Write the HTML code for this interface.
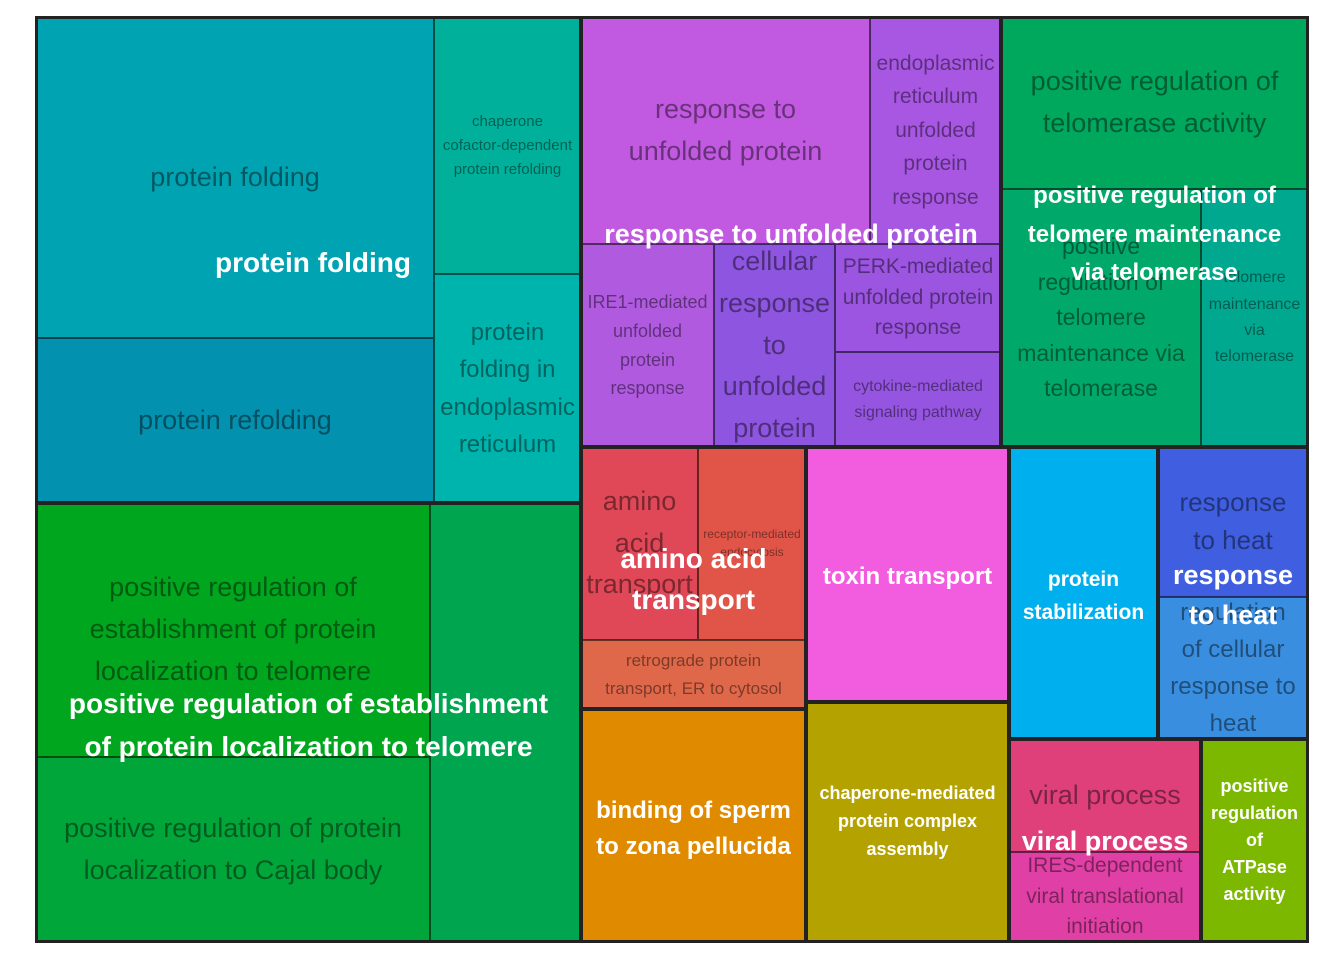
<!DOCTYPE html>
<html><head><meta charset="utf-8"><style>
body{margin:0;width:1344px;height:960px;background:#fff;position:relative;overflow:hidden;font-family:"Liberation Sans",sans-serif}
.c{position:absolute;box-sizing:border-box;border:1px solid rgba(0,0,0,.55);display:flex;align-items:center;justify-content:center;text-align:center;color:rgba(0,0,0,.45);overflow:hidden;line-height:1.45;white-space:nowrap}
.g{position:absolute;box-sizing:border-box;border:3px solid #222}
.l{position:absolute;display:flex;align-items:center;justify-content:center;text-align:center;color:#fff;font-weight:bold;line-height:1.45;white-space:nowrap}
</style></head><body>
<div class="c" style="left:36px;top:17px;width:398px;height:321px;background:#00A3B2;font-size:27px">protein folding</div>
<div class="c" style="left:36px;top:338px;width:398px;height:165px;background:#0391B0;font-size:27px">protein refolding</div>
<div class="c" style="left:434px;top:17px;width:147px;height:257px;background:#00B09A;font-size:15px;line-height:1.6">chaperone<br>cofactor-dependent<br>protein refolding</div>
<div class="c" style="left:434px;top:274px;width:147px;height:229px;background:#00B4AE;font-size:24px;line-height:1.55">protein<br>folding in<br>endoplasmic<br>reticulum</div>

<div class="c" style="left:581px;top:17px;width:289px;height:227px;background:#C15AE0;font-size:27px;line-height:1.55">response to<br>unfolded protein</div>
<div class="c" style="left:870px;top:17px;width:131px;height:227px;background:#A857E3;font-size:21px;line-height:1.6">endoplasmic<br>reticulum<br>unfolded<br>protein<br>response</div>
<div class="c" style="left:581px;top:244px;width:133px;height:203px;background:#B05AE0;font-size:18px;line-height:1.6">IRE1-mediated<br>unfolded<br>protein<br>response</div>
<div class="c" style="left:714px;top:244px;width:121px;height:203px;background:#8E55E0;font-size:27px;line-height:1.55">cellular<br>response<br>to<br>unfolded<br>protein</div>
<div class="c" style="left:835px;top:244px;width:166px;height:108px;background:#9B55E0;font-size:21px">PERK-mediated<br>unfolded protein<br>response</div>
<div class="c" style="left:835px;top:352px;width:166px;height:95px;background:#9555E0;font-size:16px;line-height:1.6">cytokine-mediated<br>signaling pathway</div>

<div class="c" style="left:1001px;top:17px;width:307px;height:172px;background:#00A85E;font-size:27px;line-height:1.55">positive regulation of<br>telomerase activity</div>
<div class="c" style="left:1001px;top:189px;width:200px;height:258px;background:#00A96A;font-size:23px;line-height:1.55">positive<br>regulation of<br>telomere<br>maintenance via<br>telomerase</div>
<div class="c" style="left:1201px;top:189px;width:107px;height:258px;background:#00A890;font-size:16px;line-height:1.65">telomere<br>maintenance<br>via<br>telomerase</div>

<div class="c" style="left:36px;top:503px;width:394px;height:254px;background:#00A61E;font-size:27px;line-height:1.55">positive regulation of<br>establishment of protein<br>localization to telomere</div>
<div class="c" style="left:36px;top:757px;width:394px;height:185px;background:#00A63A;font-size:27px;line-height:1.55">positive regulation of protein<br>localization to Cajal body</div>
<div class="c" style="left:430px;top:503px;width:151px;height:439px;background:#00A550"></div>

<div class="c" style="left:581px;top:447px;width:117px;height:193px;background:#E04858;font-size:27px;line-height:1.55">amino<br>acid<br>transport</div>
<div class="c" style="left:698px;top:447px;width:108px;height:193px;background:#E05548;font-size:12px">receptor-mediated<br>endocytosis</div>
<div class="c" style="left:581px;top:640px;width:225px;height:69px;background:#E0684A;font-size:17px;line-height:1.6">retrograde protein<br>transport, ER to cytosol</div>
<div class="c" style="left:806px;top:447px;width:203px;height:255px;background:#F25DE0"></div>
<div class="c" style="left:1009px;top:447px;width:149px;height:292px;background:#00B0EE"></div>
<div class="c" style="left:1158px;top:447px;width:150px;height:150px;background:#3F5FE0;font-size:26px">response<br>to heat</div>
<div class="c" style="left:1158px;top:597px;width:150px;height:142px;background:#3A8EE0;font-size:24px;line-height:1.55">regulation<br>of cellular<br>response to<br>heat</div>
<div class="c" style="left:581px;top:709px;width:225px;height:233px;background:#E08A00"></div>
<div class="c" style="left:806px;top:702px;width:203px;height:240px;background:#B4A200"></div>
<div class="c" style="left:1009px;top:739px;width:192px;height:113px;background:#E0407A;font-size:27px">viral process</div>
<div class="c" style="left:1009px;top:852px;width:192px;height:90px;background:#E040A5;font-size:21px">IRES-dependent<br>viral translational<br>initiation</div>
<div class="c" style="left:1201px;top:739px;width:107px;height:203px;background:#7DB800"></div>

<div class="g" style="left:35px;top:16px;width:547px;height:488px"></div>
<div class="g" style="left:580px;top:16px;width:422px;height:432px"></div>
<div class="g" style="left:1000px;top:16px;width:309px;height:432px"></div>
<div class="g" style="left:35px;top:502px;width:547px;height:441px"></div>
<div class="g" style="left:580px;top:446px;width:227px;height:264px"></div>
<div class="g" style="left:805px;top:446px;width:205px;height:257px"></div>
<div class="g" style="left:1008px;top:446px;width:151px;height:294px"></div>
<div class="g" style="left:1157px;top:446px;width:152px;height:294px"></div>
<div class="g" style="left:580px;top:708px;width:227px;height:235px"></div>
<div class="g" style="left:805px;top:701px;width:205px;height:242px"></div>
<div class="g" style="left:1008px;top:738px;width:194px;height:205px"></div>
<div class="g" style="left:1200px;top:738px;width:109px;height:205px"></div>

<div class="l" style="left:36px;top:238px;width:545px;height:50px;font-size:28px;justify-content:flex-end;padding-right:170px;box-sizing:border-box">protein folding</div>
<div class="l" style="left:581px;top:213px;width:420px;height:44px;font-size:27px">response to unfolded protein</div>
<div class="l" style="left:1001px;top:178px;width:307px;height:114px;font-size:24px;line-height:1.6">positive regulation of<br>telomere maintenance<br>via telomerase</div>
<div class="l" style="left:36px;top:680px;width:545px;height:90px;font-size:28px;line-height:1.55">positive regulation of establishment<br>of protein localization to telomere</div>
<div class="l" style="left:581px;top:535px;width:225px;height:90px;font-size:28px">amino acid<br>transport</div>
<div class="l" style="left:806px;top:447px;width:203px;height:260px;font-size:24px">toxin transport</div>
<div class="l" style="left:1009px;top:447px;width:149px;height:300px;font-size:21px;line-height:1.55">protein<br>stabilization</div>
<div class="l" style="left:1158px;top:550px;width:150px;height:90px;font-size:27px;line-height:1.5">response<br>to heat</div>
<div class="l" style="left:581px;top:709px;width:225px;height:240px;font-size:24px;line-height:1.5">binding of sperm<br>to zona pellucida</div>
<div class="l" style="left:806px;top:702px;width:203px;height:240px;font-size:18px;line-height:1.55">chaperone-mediated<br>protein complex<br>assembly</div>
<div class="l" style="left:1009px;top:820px;width:192px;height:44px;font-size:27px">viral process</div>
<div class="l" style="left:1201px;top:739px;width:107px;height:203px;font-size:18px;line-height:1.5">positive<br>regulation<br>of<br>ATPase<br>activity</div>
</body></html>
